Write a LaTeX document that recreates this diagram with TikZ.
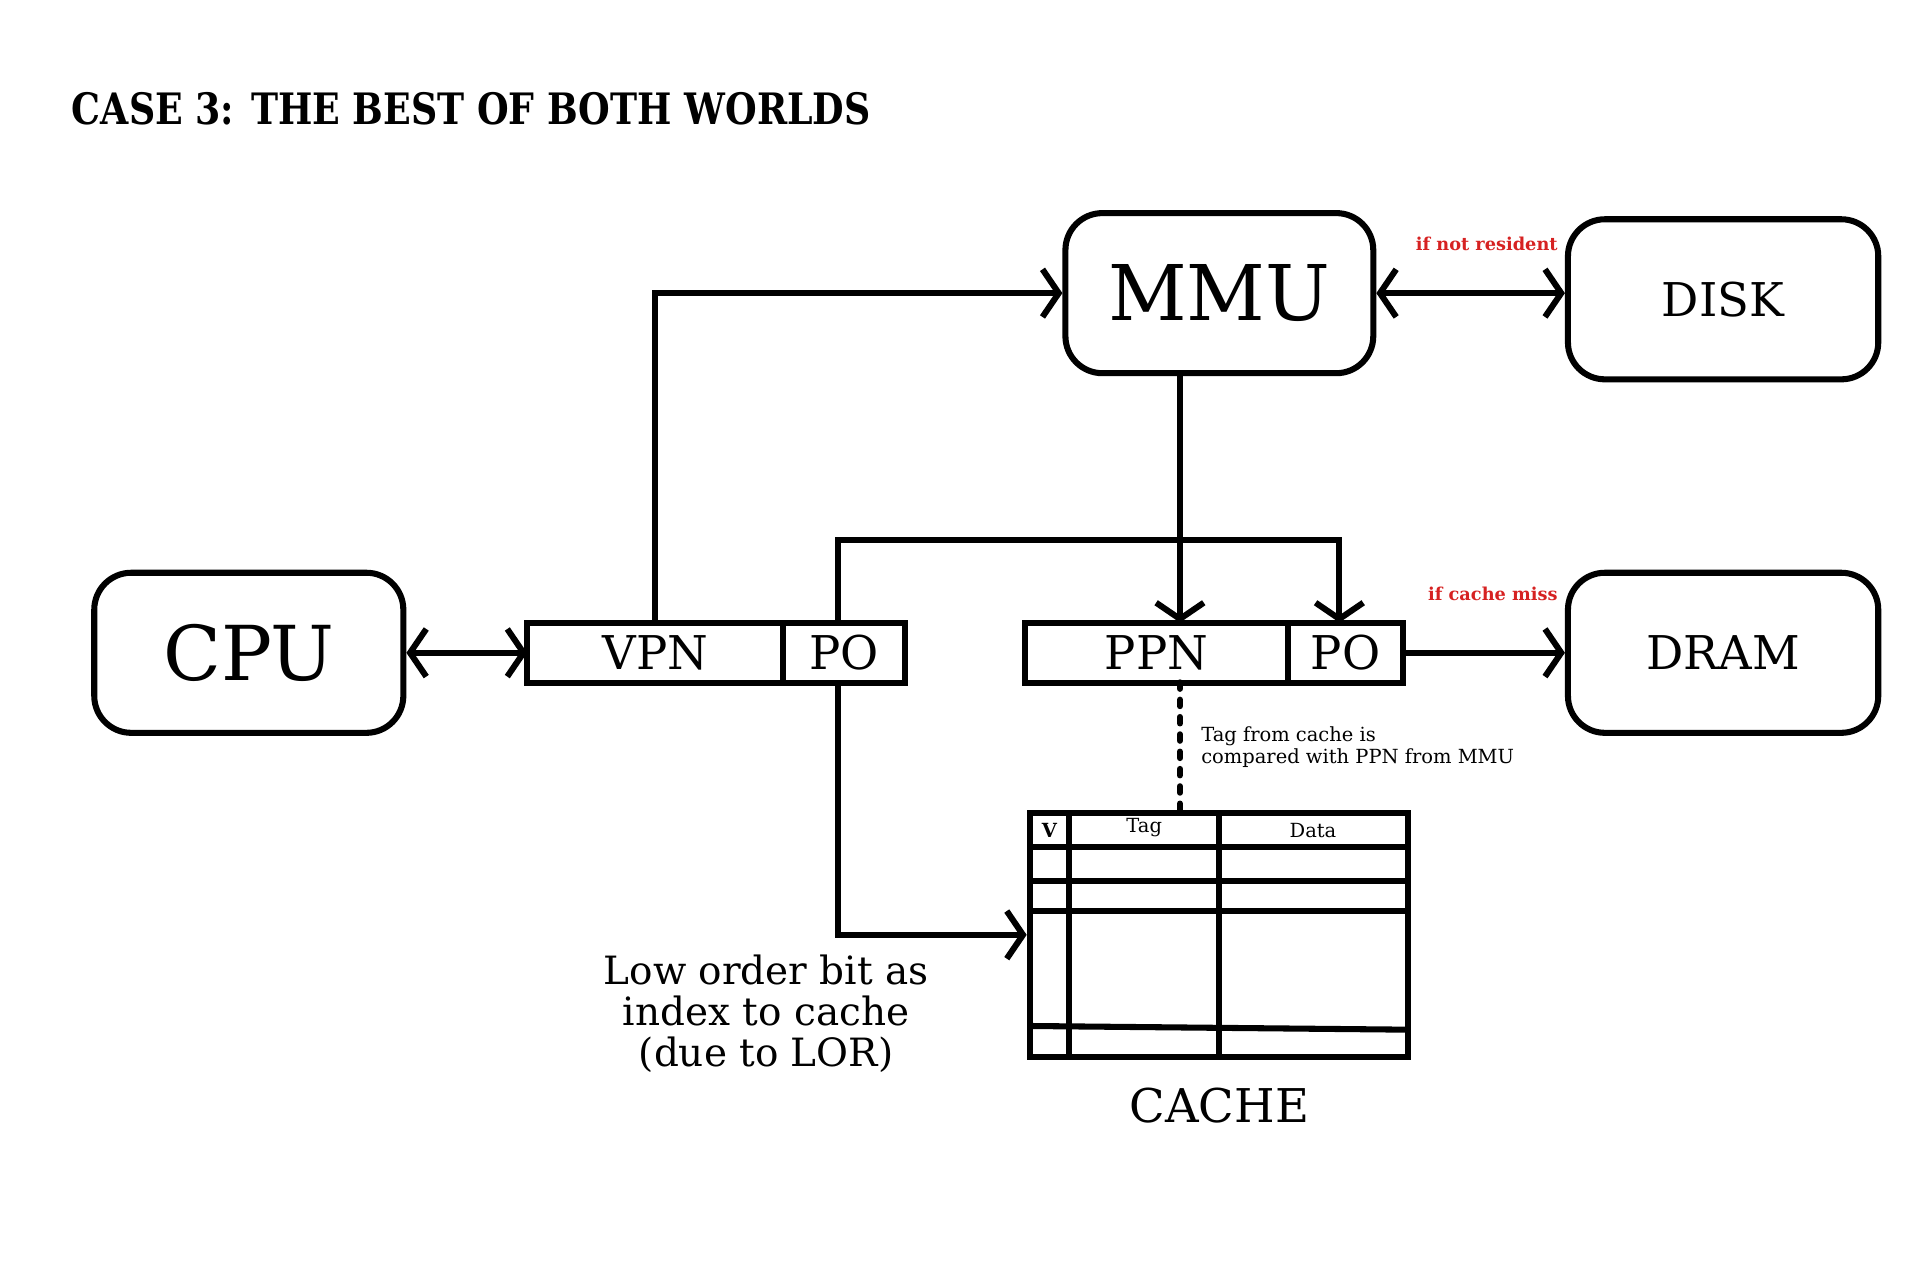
\documentclass[tikz,border=0pt]{standalone}
\usepackage{fontspec}
\usepackage{graphicx}
\setmainfont{DejaVu Serif}
\usetikzlibrary{arrows.meta,positioning}
\definecolor{missred}{RGB}{214,34,34}

\begin{document}
\begin{tikzpicture}[x=0.02cm, y=-0.02cm, >={Straight Barb[length=7.5pt, width=22pt]}]
            \tikzstyle{box} = [draw, line width=2.8pt, rounded corners=0.6cm, minimum width=5cm, minimum height=2.6cm, inner sep=0pt]
            \tikzstyle{field} = [draw, line width=2.8pt, minimum height=0.98cm, inner sep=0pt, outer sep=0pt, font=\fontsize{21.5}{24}\selectfont]
            \tikzstyle{wire} = [line width=2.8pt]
            \tikzstyle{note} = [text=missred, font=\bfseries\fontsize{8.2}{9}\selectfont, anchor=east, inner sep=0pt]
            \useasboundingbox (0,0) rectangle (1567,1042);

            \node[anchor=west, inner sep=0pt, font=\bfseries\fontsize{20}{22}\selectfont] (title) at (58,88)
                {\scalebox{0.84}[1]{CASE 3: THE BEST OF BOTH WORLDS}};

            \node[box, font=\fontsize{35.5}{40}\selectfont] (mmu) at (990,238) {MMU};
            \node[box, minimum width=5.04cm, font=\fontsize{21.5}{24}\selectfont] (disk) at (1399,243) {DISK};
            \node[box, minimum width=5.02cm, font=\fontsize{35}{40}\selectfont] (cpu) at (202,530) {CPU};
            \node[box, minimum width=5.04cm, font=\fontsize{21.5}{24}\selectfont] (dram) at (1399,530) {DRAM};

            \node[field, minimum width=4.16cm] (vpn) at (532,530) {VPN};
            \node[field, minimum width=1.98cm, right=0pt of vpn] (pofirst) {PO};
            \node[field, minimum width=4.28cm] (ppn) at (939,530) {PPN};
            \node[field, minimum width=1.86cm, right=0pt of ppn] (posecond) {PO};

            \node[draw, line width=2.8pt, minimum width=6.14cm, minimum height=3.96cm, inner sep=0pt] (cache) at (989.5,759) {};
            \draw[wire] (868,660) -- (868,858);
            \draw[wire] (990,660) -- (990,858);
            \draw[wire] (836,688) -- (1143,688);
            \draw[wire] (836,715) -- (1143,715);
            \draw[wire] (836,740) -- (1143,740);
            \draw[wire] (836,833) -- (1143,836);
            \node[font=\bfseries\fontsize{9}{10}\selectfont] (vhead) at (852,674) {V};
            \node[font=\fontsize{9}{10}\selectfont] (taghead) at (929,672) {Tag};
            \node[font=\fontsize{9}{10}\selectfont] (datahead) at (1066,674) {Data};
            \node[font=\fontsize{21.5}{24}\selectfont] (cachelabel) at (990,898) {CACHE};

            \coordinate (tagx) at (958,554);
            \draw[wire, <->] (cpu.east) -- (vpn.west);
            \draw[wire, ->] (vpn.north) |- (mmu.west);
            \draw[wire, <->] (mmu.east) -- (mmu.east -| disk.west);
            \draw[wire, ->] (tagx |- mmu.south) -- (tagx |- ppn.north);
            \draw[wire, ->] ([xshift=-0.1cm]pofirst.north) -- ++(0,-67) -| ([xshift=-0.1cm]posecond.north);
            \draw[wire, ->] (posecond.east) -- (dram.west);
            \draw[wire, ->] ([xshift=-0.1cm]pofirst.south) |- (cache.west);
            \draw[wire, line cap=round, dash pattern=on 3pt off 5pt] (tagx) -- (tagx |- cache.north);

            \node[note] (notresident) at (1265,198) {if not resident};
            \node[note] (cachemiss) at (1265,482) {if cache miss};
            \node[anchor=north west, align=left, inner sep=0pt, font=\fontsize{9}{9.8}\selectfont] (tagnote) at (975,590)
                {Tag from cache is\\compared with PPN from MMU};
            \node[align=center, font=\fontsize{18}{19}\selectfont] (lowbit) at (622,823)
                {Low order bit as\\index to cache\\(due to LOR)};
        \end{tikzpicture}
\end{document}
